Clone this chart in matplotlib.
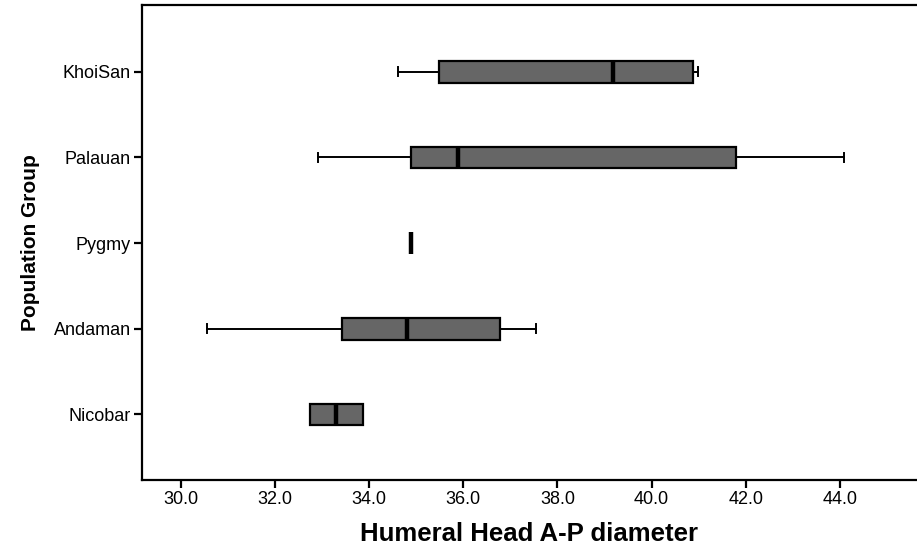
import matplotlib
matplotlib.use("Agg")
import matplotlib.pyplot as plt

groups = ["Nicobar", "Andaman", "Pygmy", "Palauan", "KhoiSan"]
whislo = [32.73, 30.55, 34.89, 32.91, 34.60]
q1     = [32.73, 33.41, 34.89, 34.89, 35.49]
med    = [33.29, 34.81, 34.89, 35.89, 39.19]
q3     = [33.87, 36.78, 34.89, 41.79, 40.89]
whishi = [33.87, 37.55, 34.89, 44.08, 40.99]
xticks = [30.0, 32.0, 34.0, 36.0, 38.0, 40.0, 42.0, 44.0]

plt.rcParams['font.family'] = ['Liberation Sans', 'DejaVu Sans']

fig = plt.figure(figsize=(9.17, 5.47), dpi=100)
ax = fig.add_axes([142/917, 67/547, 1 - 142/917, 475/547])

stats = []
for i, g in enumerate(groups):
    stats.append(dict(label=g, whislo=whislo[i], q1=q1[i], med=med[i],
                      q3=q3[i], whishi=whishi[i], fliers=[]))

pos = list(range(1, len(groups) + 1))
ax.bxp(stats, positions=pos, vert=False, widths=0.256, capwidths=0.105,
       patch_artist=True, showfliers=False,
       boxprops=dict(facecolor='#666666', edgecolor='black', linewidth=1.6),
       medianprops=dict(color='black', linewidth=3.2, solid_capstyle='butt'),
       whiskerprops=dict(color='black', linewidth=1.4),
       capprops=dict(color='black', linewidth=1.4))

ax.set_xlim(29.17, 45.64)
ax.set_ylim(0.235, 5.78)
ax.set_xticks(xticks)
ax.set_xticklabels([f"{t:.1f}" for t in xticks], fontsize=13)
ax.set_yticks(pos)
ax.set_yticklabels(groups, fontsize=13)
ax.tick_params(axis='both', length=6, width=1.6, direction='out', pad=2)
for s in ['left', 'bottom', 'top']:
    ax.spines[s].set_linewidth(1.6)
ax.spines['right'].set_visible(False)

ax.set_xlabel("Humeral Head A-P diameter", fontsize=18.5, fontweight='bold', labelpad=10)
ax.set_ylabel("Population Group", fontsize=15, fontweight='bold', labelpad=10)

fig.savefig("out.png", dpi=100)
